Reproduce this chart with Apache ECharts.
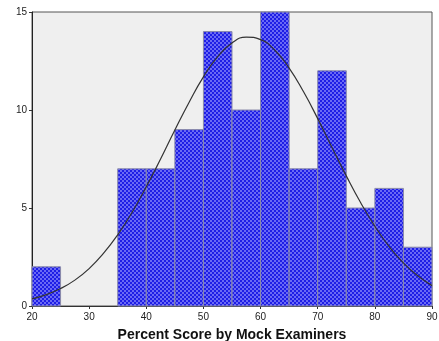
<!DOCTYPE html>
<html><head><meta charset="utf-8">
<script src="https://cdn.jsdelivr.net/npm/echarts@6/dist/echarts.min.js"></script>
<style>html,body{margin:0;padding:0;background:#fff}#c{width:439px;height:341px}</style>
</head><body><div id="c"></div>
<script>
const binStarts = [20,25,30,35,40,45,50,55,60,65,70,75,80,85];
const binWidth = 5;
const counts = [2,0,0,7,7,9,14,10,15,7,12,5,6,3];
const curveX = [20,22.5,25,27.5,30,32.5,35,37.5,40,42.5,45,47.5,50,52.5,55,57.5,60,62.5,65,67.5,70,72.5,75,77.5,80,82.5,85,87.5,90];
const curveY = [0.36,0.58,0.89,1.32,1.91,2.68,3.63,4.77,6.08,7.50,8.98,10.40,11.69,12.72,13.42,13.72,13.59,13.05,12.14,10.94,9.56,8.09,6.64,5.28,4.07,3.03,2.20,1.54,1.04];
const xTicks = [20,30,40,50,60,70,80,90];
const yTicks = [0,5,10,15];
const xTitle = 'Percent Score by Mock Examiners';

const cv = document.createElement('canvas');
cv.width = 4; cv.height = 4;
const g = cv.getContext('2d');
g.fillStyle = '#6a6af4'; g.fillRect(0,0,4,4);
g.fillStyle = '#1e1ee6'; g.fillRect(0,0,2,2); g.fillRect(2,2,2,2);
const pattern = {image: cv, repeat: 'repeat'};

const binData = binStarts.map((s,i)=>[s, s+binWidth, counts[i]]);
const chart = echarts.init(document.getElementById('c'), null, {renderer:'canvas'});
chart.setOption({
  animation:false,
  grid:{left:32,right:7,top:12,bottom:35,outerBoundsMode:'none',containLabel:false,show:true,backgroundColor:'#efefef',borderColor:'#555',borderWidth:1},
  xAxis:{type:'value',min:xTicks[0],max:xTicks[xTicks.length-1],interval:10,
    name:xTitle,nameLocation:'middle',nameGap:22,
    nameTextStyle:{fontFamily:'Liberation Sans',fontWeight:'bold',fontSize:14,color:'#111'},
    axisLine:{lineStyle:{color:'#333',width:1}},
    axisTick:{show:true,length:3,lineStyle:{color:'#333'}},
    axisLabel:{fontFamily:'Liberation Sans',fontSize:10,color:'#222',margin:6},
    splitLine:{show:false}},
  yAxis:{type:'value',min:yTicks[0],max:yTicks[yTicks.length-1],interval:5,
    axisLine:{show:true,lineStyle:{color:'#222',width:1}},
    axisTick:{show:true,length:3,lineStyle:{color:'#333'}},
    axisLabel:{fontFamily:'Liberation Sans',fontSize:10,color:'#222',margin:5},
    splitLine:{show:false}},
  series:[
    {type:'custom',data:binData,
      renderItem:function(params,api){
        const x0=api.value(0),x1=api.value(1),v=api.value(2);
        if(!v) return null;
        const p0=api.coord([x0,v]);const p1=api.coord([x1,0]);
        return {type:'rect',shape:{x:p0[0],y:p0[1],width:p1[0]-p0[0],height:p1[1]-p0[1]},
          style:{fill:pattern,stroke:'#8a8aa8',lineWidth:1}};
      },
      encode:{x:[0,1],y:2},z:2},
    {type:'line',data:curveX.map((x,i)=>[x,curveY[i]]),smooth:true,showSymbol:false,
      lineStyle:{color:'#333',width:1.2},z:3}
  ]
});
</script></body></html>
